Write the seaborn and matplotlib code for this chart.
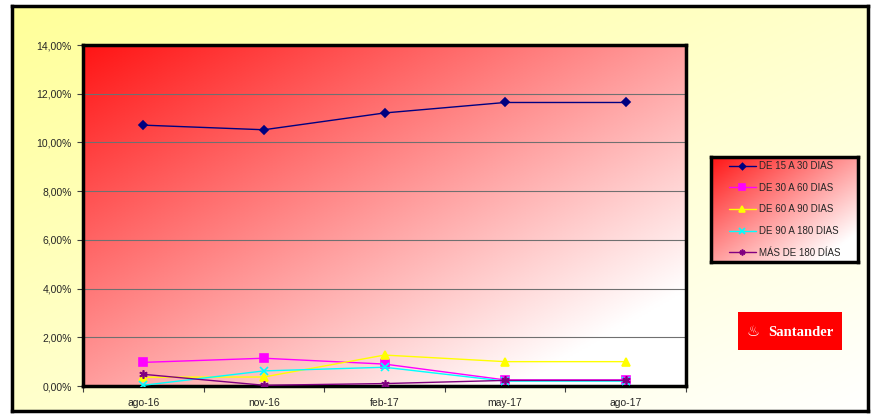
import numpy as np
import pandas as pd
import matplotlib
matplotlib.use("Agg")
import matplotlib.pyplot as plt
from matplotlib.ticker import FuncFormatter, FixedLocator
import seaborn as sns

meses = ["ago-16", "nov-16", "feb-17", "may-17", "ago-17"]
series = ["DE 15 A 30 DIAS", "DE 30 A 60 DIAS", "DE 60 A 90 DIAS",
          "DE 90 A 180 DIAS", "MÁS DE 180 DÍAS"]
de15a30 = [10.71, 10.52, 11.21, 11.64, 11.64]
de30a60 = [0.97, 1.14, 0.90, 0.25, 0.25]
de60a90 = [0.36, 0.37, 1.27, 1.00, 1.00]
de90a180 = [0.03, 0.62, 0.77, 0.20, 0.20]
mas180 = [0.48, 0.03, 0.10, 0.23, 0.23]
yticks = [0, 2, 4, 6, 8, 10, 12, 14]

colores = ["#000080", "#FF00FF", "#FFFF00", "#00FFFF", "#800080"]
marcadores = ["D", "s", "^", "x", (6, 2, 0)]
tamanos = [4.5, 6, 6, 6, 6]

valores = [de15a30, de30a60, de60a90, de90a180, mas180]

sns.set_theme(style="white")
plt.rcParams["font.family"] = ["Liberation Sans", "DejaVu Sans"]

W, H = 875, 416
fig = plt.figure(figsize=(W / 100, H / 100), dpi=100)
fig.patch.set_facecolor("white")

def fr(x0, y0, x1, y1):
    return [x0 / W, 1 - y1 / H, (x1 - x0) / W, (y1 - y0) / H]

def red_gradient(n=200):
    xx, yy = np.meshgrid(np.linspace(0, 1, n), np.linspace(0, 1, n))
    t = (xx + yy) / 2.0
    g = np.clip(0.08 + 1.07 * t, 0, 1)
    return np.dstack([np.ones_like(g), g, g])

def yellow_gradient(n=200):
    xx, yy = np.meshgrid(np.linspace(0, 1, n), np.linspace(0, 1, n))
    t = (xx + yy) / 2.0
    b = np.clip(0.6 + 0.4 * t, 0, 1)
    return np.dstack([np.ones_like(b), np.ones_like(b), b])

# outer yellow frame
bg = fig.add_axes(fr(12, 6, 868, 411), zorder=0)
bg.imshow(yellow_gradient(), extent=[0, 1, 0, 1], aspect="auto", origin="upper")
bg.set_xticks([]); bg.set_yticks([])
for sp in bg.spines.values():
    sp.set_linewidth(2.5); sp.set_color("black")

# main plot
ax = fig.add_axes(fr(83, 45, 686, 386), zorder=2)
ax.imshow(red_gradient(), extent=[-0.5, 4.5, 0, 14],
          aspect="auto", origin="upper", zorder=0)
for y in yticks[1:-1]:
    ax.axhline(y, color="#707070", lw=0.8, zorder=1)

for nombre, vals, col, mk, ms in zip(series, valores, colores, marcadores, tamanos):
    d = pd.DataFrame({"mes": meses, "valor": vals})
    sns.lineplot(data=d, x="mes", y="valor", color=col, marker=mk, markersize=ms,
                 markeredgecolor=col, markeredgewidth=1.2, linewidth=1.0,
                 sort=False, label=nombre, ax=ax, zorder=3)

ax.set_xlim(-0.5, 4.5)
ax.set_ylim(0, 14)
ax.set_xlabel(""); ax.set_ylabel("")
ax.yaxis.set_major_locator(FixedLocator(yticks))
ax.yaxis.set_major_formatter(FuncFormatter(lambda v, p: f"{v:.2f}%".replace(".", ",")))
ax.set_xticks(range(len(meses)))
ax.set_xticklabels(meses)
ax.set_xticks(np.arange(-0.5, 5.0, 1.0), minor=True)
ax.tick_params(axis="x", which="major", length=0, labelsize=7.5, pad=9)
ax.tick_params(axis="x", which="minor", length=4, width=0.8, color="#404040", bottom=True)
ax.tick_params(axis="y", length=4, width=0.8, color="#404040", labelsize=7.5, left=True, pad=4)
for sp in ax.spines.values():
    sp.set_linewidth(2.5); sp.set_color("black")

handles, labels = ax.get_legend_handles_labels()
if ax.get_legend() is not None:
    ax.get_legend().remove()

# legend box
lg = fig.add_axes(fr(711, 157, 858, 262), zorder=3)
lg.imshow(red_gradient(), extent=[0, 1, 0, 1], aspect="auto", origin="upper")
lg.set_xticks([]); lg.set_yticks([])
for sp in lg.spines.values():
    sp.set_linewidth(2.5); sp.set_color("black")
leg = lg.legend(handles, labels, loc="center", frameon=False, fontsize=7,
                handlelength=2.8, labelspacing=1.2, handletextpad=0.3,
                markerscale=0.7, borderaxespad=0.1, borderpad=0.2)

# Santander logo
lo = fig.add_axes(fr(738, 312, 842, 350), zorder=3)
lo.set_facecolor("#FF0000")
lo.set_xticks([]); lo.set_yticks([])
for sp in lo.spines.values():
    sp.set_visible(False)
lo.text(0.14, 0.50, "♨", color="white", fontsize=10.5, ha="center", va="center",
        family="DejaVu Sans", transform=lo.transAxes)
lo.text(0.60, 0.46, "Santander", color="white", fontsize=10.5, fontweight="bold",
        ha="center", va="center", family="Liberation Serif", transform=lo.transAxes)

fig.savefig("out.png", dpi=100)
